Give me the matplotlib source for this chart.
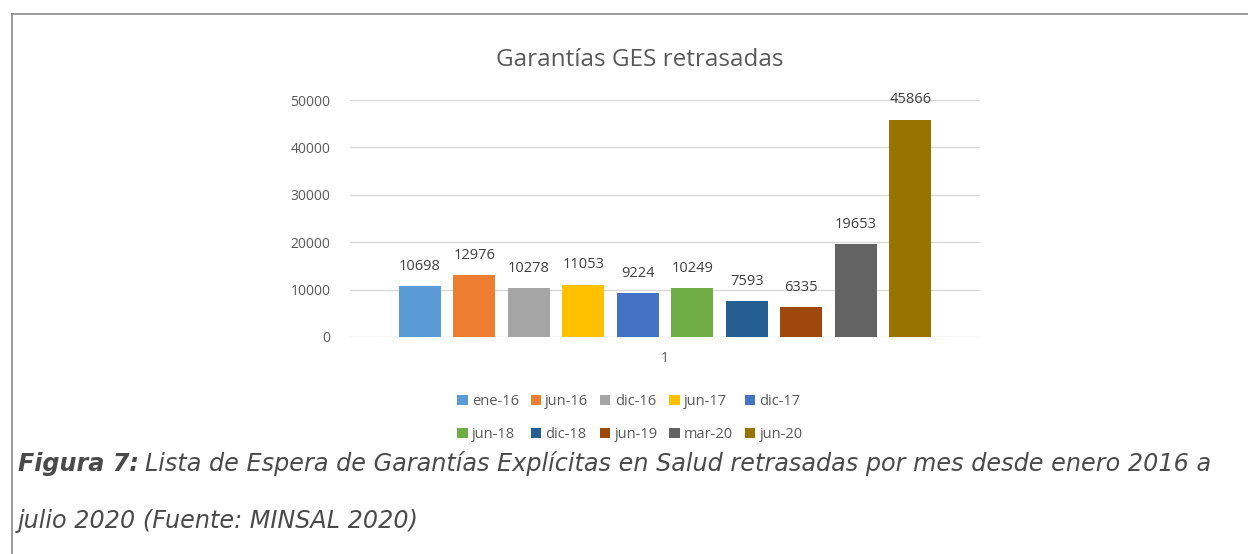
import numpy as np
import matplotlib.pyplot as plt
from matplotlib.lines import Line2D
from matplotlib.patches import Patch

# data
meses = ["ene-16", "jun-16", "dic-16", "jun-17", "dic-17",
         "jun-18", "dic-18", "jun-19", "mar-20", "jun-20"]
valores = [10698, 12976, 10278, 11053, 9224, 10249, 7593, 6335, 19653, 45866]
colores = ["#5B9BD5", "#ED7D31", "#A5A5A5", "#FFC000", "#4472C4",
           "#70AD47", "#255E91", "#9E480E", "#636363", "#997300"]
yticks = [0, 10000, 20000, 30000, 40000, 50000]

W, H = 1248, 554
fig = plt.figure(figsize=(W / 100, H / 100), dpi=100)
plt.rcParams['font.family'] = ['Open Sans', 'DejaVu Sans']

# frame around the figure
fig.add_artist(Line2D([12 / W, 1.0], [1 - 14 / H, 1 - 14 / H], color="#8a8a8a", lw=1.2))
fig.add_artist(Line2D([12 / W, 12 / W], [0, 1 - 14 / H], color="#8a8a8a", lw=1.2))

ax = fig.add_axes([350 / W, (H - 337) / H, 630 / W, (337 - 100) / H])
x = np.arange(len(valores))
bars = ax.bar(x, valores, width=0.77, color=colores, zorder=3)
for xi, v in zip(x, valores):
    ax.text(xi, v + 2600, str(v), ha="center", va="bottom", fontsize=10.5, color="#404040")

ax.set_xlim(-1.28, len(valores) - 1 + 1.28)
ax.set_ylim(0, 50000)
ax.set_yticks(yticks)
ax.set_yticklabels([str(t) for t in yticks], fontsize=10, color="#595959")
ax.set_xticks([4.5])
ax.set_xticklabels(["1"], fontsize=10, color="#595959")
ax.tick_params(length=0, pad=14)
ax.tick_params(axis="x", pad=10)
ax.grid(axis="y", color="#d9d9d9", lw=1, zorder=0)
for s in ax.spines.values():
    s.set_visible(False)

fig.text(640 / W, 1 - 60 / H, "Garantías GES retrasadas", ha="center", va="center",
         fontsize=17.5, color="#595959")

# legend filled row by row (matplotlib fills column by column)
orden = [0, 5, 1, 6, 2, 7, 3, 8, 4, 9]
handles = [Patch(facecolor=colores[i], label=meses[i]) for i in orden]
fig.legend(handles=handles, ncol=5, loc="center", bbox_to_anchor=(630 / W, 1 - 418 / H),
           frameon=False, fontsize=10.5, handlelength=0.7, handleheight=0.7,
           handletextpad=0.3, columnspacing=0.8, labelspacing=1.25, labelcolor="#595959")

# caption
fs_cap = 17.2
fig.canvas.draw()
t1 = fig.text(18 / W, 1 - 464 / H, "Figura 7:", fontsize=fs_cap, fontstyle="italic",
              fontweight="bold", color="#4a4a4a", va="center", family="DejaVu Sans")
bb = t1.get_window_extent(fig.canvas.get_renderer())
fig.text((bb.x1 + 6) / W, 1 - 464 / H,
         "Lista de Espera de Garantías Explícitas en Salud retrasadas por mes desde enero 2016 a",
         fontsize=fs_cap, fontstyle="italic", color="#4a4a4a", va="center", family="DejaVu Sans")
fig.text(18 / W, 1 - 521 / H, "julio 2020 (Fuente: MINSAL 2020)", fontsize=fs_cap,
         fontstyle="italic", color="#4a4a4a", va="center", family="DejaVu Sans")

fig.savefig("out.png", dpi=100)
